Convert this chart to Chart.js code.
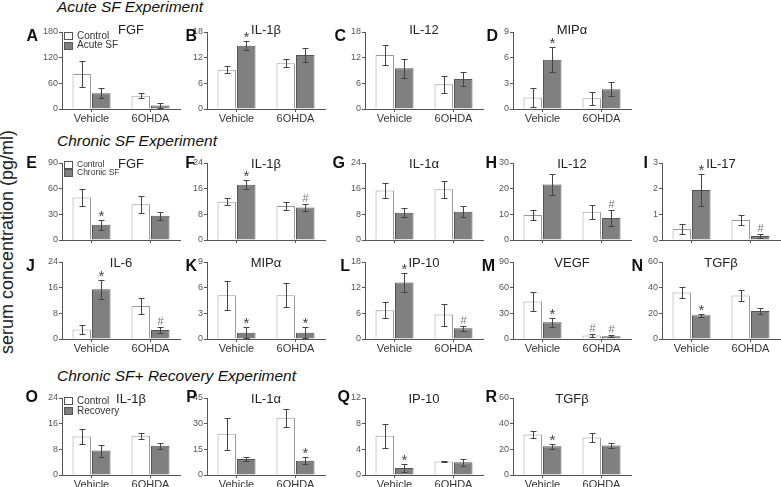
<!DOCTYPE html>
<html>
<head>
<meta charset="utf-8">
<script src="https://cdn.jsdelivr.net/npm/chart.js@4.4.0/dist/chart.umd.min.js"></script>
<style>
  body { margin: 0; background: #fff; }
  #fig { position: relative; width: 781px; height: 487px; overflow: hidden; font-family: "Liberation Sans", Arial, sans-serif; color: #222; }
  #fig canvas, #fig .txt { position: absolute; }
  .txt { white-space: nowrap; line-height: 1; }
  .box { position: absolute; width: 7px; height: 6px; border: 1px solid #555; }
</style>
</head>
<body>
<div id="fig"></div>
<script>
// Data (means and SEM, [Vehicle, 6OHDA])
const groups = ["Vehicle", "6OHDA"];
const sectionTitles = ["Acute SF Experiment", "Chronic SF Experiment", "Chronic SF+ Recovery Experiment"];
const legendLabels = [["Control", "Acute SF"], ["Control", "Chronic SF"], ["Control", "Recovery"]];
const panelLetters = ["A", "B", "C", "D", "E", "F", "G", "H", "I", "J", "K", "L", "M", "N", "O", "P", "Q", "R"];
const panelTitles = ["FGF", "IL-1β", "IL-12", "MIPα", "FGF", "IL-1β", "IL-1α", "IL-12", "IL-17",
                     "IL-6", "MIPα", "IP-10", "VEGF", "TGFβ", "IL-1β", "IL-1α", "IP-10", "TGFβ"];
const yMax = [180, 18, 18, 9, 90, 24, 24, 30, 3, 24, 9, 18, 90, 60, 24, 45, 12, 60];

const controlMean = [[82, 31], [9.2, 10.7], [12.6, 5.8], [1.35, 1.26],
                     [49.7, 41.8], [11.9, 10.6], [15.4, 15.8], [9.7, 11.0], [0.43, 0.78],
                     [3.0, 10.3], [5.1, 5.1], [6.7, 5.7], [43.8, 4.2], [36.2, 33.8],
                     [12.0, 12.2], [24.1, 33.5], [6.1, 2.1], [31.5, 29.2]];
const controlSem = [[31, 6], [0.85, 0.95], [2.3, 2.0], [1.1, 0.75],
                    [9.5, 10], [1.05, 1.3], [2.4, 2.7], [2.1, 2.8], [0.18, 0.18],
                    [1.3, 2.6], [1.7, 1.4], [1.85, 2.55], [11, 1.5], [4.2, 4.5],
                    [2.2, 0.9], [9.4, 5.2], [1.9, 0.15], [2.6, 3.5]];
const treatedMean = [[37, 8], [14.8, 12.6], [9.5, 7.0], [5.75, 2.3],
                     [17.8, 28.4], [17.2, 10.1], [8.5, 8.8], [21.6, 8.6], [1.95, 0.16],
                     [15.5, 2.8], [0.73, 0.73], [13.2, 2.5], [19.6, 3.1], [18.5, 21.8],
                     [7.6, 9.1], [9.4, 8.4], [1.1, 2.0], [22.5, 23.0]];
const treatedSem = [[12, 5], [1.05, 1.6], [2.2, 1.7], [1.45, 0.8],
                    [6, 4.7], [1.4, 1.2], [1.45, 1.75], [4.2, 3.0], [0.64, 0.07],
                    [2.9, 0.9], [0.65, 0.65], [2.25, 0.6], [5.2, 1.2], [1.3, 2.6],
                    [1.9, 0.95], [1.0, 2.0], [0.6, 0.55], [1.9, 1.7]];
const controlMarks = [["", ""], ["", ""], ["", ""], ["", ""],
                      ["", ""], ["", ""], ["", ""], ["", ""], ["", ""],
                      ["", ""], ["", ""], ["", ""], ["", "#"], ["", ""],
                      ["", ""], ["", ""], ["", ""], ["", ""]];
const treatedMarks = [["", ""], ["*", ""], ["", ""], ["*", ""],
                      ["*", ""], ["*", "#"], ["", ""], ["", "#"], ["*", "#"],
                      ["*", "#"], ["*", "*"], ["*", "#"], ["*", "#"], ["*", ""],
                      ["", ""], ["", "*"], ["*", ""], ["*", ""]];

// Layout
const colX = [62, 207, 365, 513, 662];
const rowTop = [32, 163, 262, 398];
const plotW = 118, plotH = 77;
const panelRow = [0, 0, 0, 0, 1, 1, 1, 1, 1, 2, 2, 2, 2, 2, 3, 3, 3, 3];
const panelCol = [0, 1, 2, 3, 0, 1, 2, 3, 4, 0, 1, 2, 3, 4, 0, 1, 2, 3];
const letterRight = [38, 197, 346, 498, 37, 195, 345, 497, 648, 35, 197, 350, 495, 643, 38, 197, 350, 497];
const letterBase = [42, 169, 272, 403];
const titleBase = [34, 168, 267, 403];
const showXLabels = [true, false, true, true];
const sectionBase = [12, 146, 381];
const legendPanel = [0, 4, 14];
const legendTop = [32, 161, 397];
const legendStep = [9.5, 7.7, 10];
const legendFont = [10, 8.5, 10];

const FONT = '"Liberation Sans", Arial, sans-serif';
Chart.defaults.font.family = FONT;
const fig = document.getElementById("fig");

// put a text div so that its baseline sits at y
function addText(text, x, base, size, css) {
    const d = document.createElement("div");
    d.className = "txt";
    d.textContent = text;
    d.style.fontSize = size + "px";
    d.style.top = (base - 0.85 * size) + "px";
    d.style.left = x + "px";
    if (css) d.style.cssText += css;
    fig.appendChild(d);
    return d;
}

// Error bars and significance marks
const errorBars = {
    id: "errorBars",
    afterDatasetsDraw(chart) {
        const ctx = chart.ctx;
        const ys = chart.scales.y;
        chart.data.datasets.forEach((ds, d) => {
            chart.getDatasetMeta(d).data.forEach((bar, j) => {
                const m = ds.data[j], e = ds.errors[j];
                const x = Math.round(bar.x) + 0.5;
                const yt = Math.round(ys.getPixelForValue(m + e)) + 0.5;
                const yb = Math.round(ys.getPixelForValue(Math.max(0, m - e))) + 0.5;
                ctx.save();
                ctx.strokeStyle = "#444";
                ctx.lineWidth = 1;
                ctx.beginPath();
                ctx.moveTo(x, yt); ctx.lineTo(x, yb);
                ctx.moveTo(x - 3, yt); ctx.lineTo(x + 3, yt);
                ctx.moveTo(x - 3, yb); ctx.lineTo(x + 3, yb);
                ctx.stroke();
                const mark = ds.marks[j];
                ctx.textAlign = "center";
                ctx.textBaseline = "alphabetic";
                if (mark === "*") {
                    ctx.fillStyle = "#444";
                    ctx.font = "15px " + FONT;
                    ctx.fillText("*", x, yt);
                } else if (mark === "#") {
                    ctx.fillStyle = "#777";
                    ctx.font = "11px " + FONT;
                    ctx.fillText("#", x, yt - 3);
                }
                ctx.restore();
            });
        });
    }
};

function makePanel(i) {
    const r = panelRow[i], c = panelCol[i];
    const x0 = colX[c], top = rowTop[r];
    const padL = 45, padT = 8, padR = 4, axisH = 20;
    const W = padL + plotW + padR, H = padT + plotH + axisH;
    const canvas = document.createElement("canvas");
    canvas.width = W;
    canvas.height = H;
    canvas.style.left = (x0 - padL) + "px";
    canvas.style.top = (top - padT) + "px";
    canvas.style.width = W + "px";
    canvas.style.height = H + "px";
    fig.appendChild(canvas);

    const barOpts = { borderWidth: 1, categoryPercentage: 0.66, barPercentage: 0.95 };
    new Chart(canvas, {
        type: "bar",
        data: {
            labels: groups,
            datasets: [
                Object.assign({ data: controlMean[i], errors: controlSem[i], marks: controlMarks[i],
                    backgroundColor: "#ffffff", borderColor: "#9a9a9a" }, barOpts),
                Object.assign({ data: treatedMean[i], errors: treatedSem[i], marks: treatedMarks[i],
                    backgroundColor: "#808080", borderColor: "#555555" }, barOpts)
            ]
        },
        options: {
            responsive: false,
            animation: false,
            devicePixelRatio: 1,
            layout: { padding: { top: padT, right: padR, left: 0, bottom: 0 } },
            plugins: { legend: { display: false }, tooltip: { enabled: false } },
            scales: {
                x: {
                    grid: { offset: false, drawOnChartArea: false, tickLength: 3, color: "#555" },
                    border: { color: "#555" },
                    ticks: { display: showXLabels[r], color: "#333", font: { size: 11 },
                             padding: 0, maxRotation: 0, autoSkip: false },
                    afterFit: s => { s.height = axisH; }
                },
                y: {
                    min: 0,
                    max: yMax[i],
                    ticks: { stepSize: yMax[i] / 3, color: "#555", font: { size: 9 }, padding: 1 },
                    grid: { drawOnChartArea: false, tickLength: 3, color: "#555" },
                    border: { color: "#555" },
                    afterFit: s => { s.width = padL; }
                }
            }
        },
        plugins: [errorBars]
    });

    // panel letter and title
    const lt = addText(panelLetters[i], 0, letterBase[r], 16, "font-weight:bold;color:#111;");
    lt.style.left = "auto";
    lt.style.right = (781 - letterRight[i]) + "px";
    const hasLegend = legendPanel.indexOf(i) >= 0;
    const cx = hasLegend ? x0 + 69 : x0 + plotW / 2;
    addText(panelTitles[i], cx - 50, titleBase[r], 13, "width:100px;text-align:center;");
}

function makeLegend(k) {
    const i = legendPanel[k];
    const x = colX[panelCol[i]] + 2;
    legendLabels[k].forEach((lab, j) => {
        const y = legendTop[k] + j * legendStep[k];
        const b = document.createElement("div");
        b.className = "box";
        b.style.left = x + "px";
        b.style.top = y + "px";
        b.style.background = j === 0 ? "#fff" : "#808080";
        fig.appendChild(b);
        addText(lab, x + 13, y + 3.5 + legendFont[k] * 0.36, legendFont[k], "color:#333;");
    });
}

sectionTitles.forEach((t, k) => addText(t, 57, sectionBase[k], 15.5, "font-style:italic;color:#111;"));

// rotated y axis title
const yt = document.createElement("div");
yt.className = "txt";
yt.textContent = "serum concentration (pg/ml)";
yt.style.cssText += "font-size:18px;line-height:20px;width:260px;height:20px;text-align:center;" +
    "left:" + (7 - 130) + "px;top:" + (242 - 10) + "px;transform:rotate(-90deg);color:#222;";
fig.appendChild(yt);

for (let i = 0; i < panelLetters.length; i++) makePanel(i);
for (let k = 0; k < legendPanel.length; k++) makeLegend(k);
</script>
</body>
</html>
